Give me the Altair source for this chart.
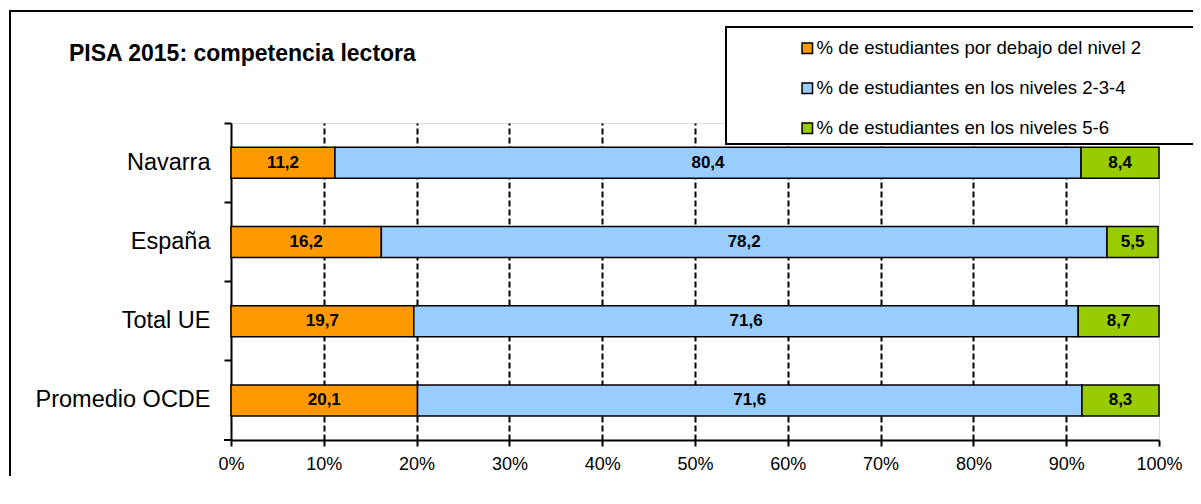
import altair as alt
import pandas as pd

countries = ["Navarra", "España", "Total UE", "Promedio OCDE"]
series = [
    "% de estudiantes por debajo del nivel 2",
    "% de estudiantes en los niveles 2-3-4",
    "% de estudiantes en los niveles 5-6",
]
below2 = [11.2, 16.2, 19.7, 20.1]
lvl234 = [80.4, 78.2, 71.6, 71.6]
lvl56 = [8.4, 5.5, 8.7, 8.3]
colors = ["#FF9900", "#99CCFF", "#99CC00"]
x_ticks = [0, 10, 20, 30, 40, 50, 60, 70, 80, 90, 100]
title_text = "PISA 2015: competencia lectora"

rows = []
for i, c in enumerate(countries):
    for j, vals in enumerate([below2, lvl234, lvl56]):
        rows.append({
            "country": c,
            "serie": series[j],
            "order": j,
            "value": vals[i],
            "label": f"{vals[i]:.1f}".replace(".", ","),
        })
df = pd.DataFrame(rows)

W, H = 928, 317
FONT = "Liberation Sans"

base = alt.Chart(df).transform_stack(
    stack="value", groupby=["country"], as_=["v0", "v1"],
    sort=[alt.SortField("order", order="ascending")],
).transform_calculate(mid="(datum.v0 + datum.v1) / 2")

y_enc = alt.Y(
    "country:N", sort=countries, title=None,
    scale=alt.Scale(paddingInner=0, paddingOuter=0),
    axis=alt.Axis(
        bandPosition=0, domainColor="black", domainWidth=2,
        tickColor="black", tickWidth=2, tickSize=7,
        labelFontSize=23.5, labelColor="black", labelPadding=14,
        labelFont=FONT, grid=False,
    ),
)

x_axis = alt.Axis(
    values=x_ticks, labelExpr="datum.value + '%'",
    domainColor="black", domainWidth=2,
    tickColor="black", tickWidth=2, tickSize=6,
    labelFontSize=18, labelColor="black", labelPadding=9, labelFont=FONT,
    labelFlush=False,
    grid=True, gridColor="black", gridWidth=2, gridDash=[6, 3],
    gridOpacity={"condition": {"test": "datum.value == 0 || datum.value == 100", "value": 0}, "value": 1},
)

bars = base.mark_bar(size=31, stroke="black", strokeWidth=1.5).encode(
    x=alt.X("v0:Q", scale=alt.Scale(domain=[0, 100], nice=False), axis=x_axis, title=None),
    x2="v1:Q",
    y=y_enc,
    color=alt.Color(
        "serie:N", sort=series,
        scale=alt.Scale(domain=series, range=colors),
        legend=alt.Legend(
            title=None, orient="none", legendX=567, legendY=-84,
            direction="vertical", symbolType="square", symbolSize=110,
            symbolStrokeColor="black", symbolStrokeWidth=1.5,
            labelFontSize=18.6, labelFont=FONT, labelColor="black",
            labelOffset=0, rowPadding=21, padding=0, labelLimit=500,
        ),
    ),
    order=alt.Order("order:Q"),
)

texts = base.mark_text(fontSize=17, fontWeight="bold", font=FONT, color="black").encode(
    x=alt.X("mid:Q"),
    y=alt.Y("country:N", sort=countries),
    text="label:N",
)

one = pd.DataFrame({"a": [0]})

# bottom tick at the base of the category axis
bottom_tick = alt.Chart(one).mark_rule(color="black", strokeWidth=2).encode(
    x=alt.value(-7), x2=alt.value(0), y=alt.value(H)
)

# legend frame (its right edge lies outside the picture)
legend_fill = alt.Chart(one).mark_rect(fill="white", strokeWidth=0).encode(
    x=alt.value(495), x2=alt.value(1000), y=alt.value(-96), y2=alt.value(21)
)
legend_top = alt.Chart(one).mark_rule(color="black", strokeWidth=2).encode(
    x=alt.value(494), x2=alt.value(1000), y=alt.value(-96)
)
legend_bottom = alt.Chart(one).mark_rule(color="black", strokeWidth=2).encode(
    x=alt.value(494), x2=alt.value(1000), y=alt.value(21)
)
legend_left = alt.Chart(one).mark_rule(color="black", strokeWidth=2).encode(
    x=alt.value(495), y=alt.value(-97), y2=alt.value(22)
)

# outer chart frame (left and top edges)
frame_left = alt.Chart(one).mark_rule(color="black", strokeWidth=2).encode(
    x=alt.value(-221), y=alt.value(-113), y2=alt.value(400)
)
frame_top = alt.Chart(one).mark_rule(color="black", strokeWidth=2).encode(
    x=alt.value(-222), x2=alt.value(1000), y=alt.value(-112)
)

title = alt.Chart(pd.DataFrame({"t": [title_text]})).mark_text(
    fontSize=23, fontWeight="bold", font=FONT, color="black", align="left", baseline="middle"
).encode(x=alt.value(-162), y=alt.value(-69), text="t:N")

chart = alt.layer(
    bars, texts, bottom_tick, legend_fill, legend_top, legend_bottom, legend_left,
    frame_left, frame_top, title
).properties(
    width=W, height=H,
    autosize=alt.AutoSizeParams(type="none"),
    padding={"left": 223, "top": 115, "right": 34, "bottom": 36},
).configure_view(
    stroke="#A0A0A0", strokeWidth=2
).configure(background="white")

chart.save("out.html", embed_options={"renderer": "svg", "actions": False})
